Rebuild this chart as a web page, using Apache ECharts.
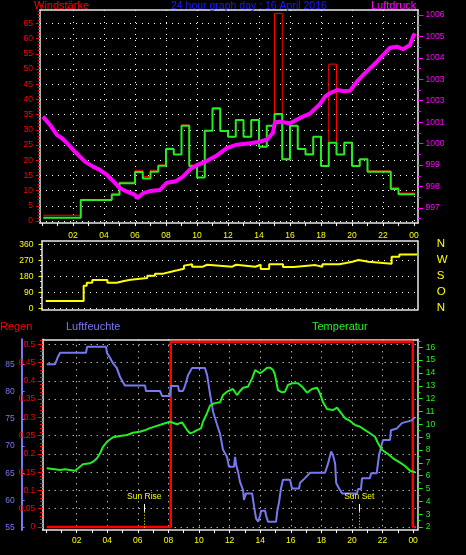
<!DOCTYPE html>
<html><head><meta charset="utf-8">
<script src="https://cdn.jsdelivr.net/npm/echarts@6/dist/echarts.min.js"></script>
<style>html,body{margin:0;padding:0;background:#000;}#c{width:466px;height:555px;}</style>
</head><body><div id="c"></div>
<script>
// ---------- DATA ----------
const hourLabels = ['02','04','06','08','10','12','14','16','18','20','22','00'];
const labelHours = [2,4,6,8,10,12,14,16,18,20,22,24];
const tickHours = [0,1,2,3,4,5,6,7,8,9,10,11,12,13,14,15,16,17,18,19,20,21,22,23,24];

// wind (30-min steps)
const windTimes = [0.08,2.5,4.5,5.0,6.0,6.5,7.0,7.5,8.0,8.5,9.0,9.5,10.0,10.5,11.0,11.5,12.0,12.5,13.0,13.5,14.0,14.5,15.0,15.5,16.0,16.5,17.0,17.5,18.0,18.5,19.0,19.5,20.0,20.5,21.0,22.5,23.0,24.06];
const windMean  = [1.1,6.9,8.6,12.4,16.1,14.0,16.2,18.2,23.7,21.9,31.3,18.1,14.3,29.7,37.0,29.6,27.7,33.2,27.7,33.2,24.4,31.3,35.2,20.3,31.3,23.7,21.9,27.7,18.1,25.7,21.9,25.7,18.1,20.3,16.2,10.5,8.8,8.8];
const windGust  = [1.9,7.1,9.1,12.8,16.7,14.6,16.7,18.4,24.0,21.9,31.6,18.4,16.3,29.7,37.3,29.6,27.7,33.2,27.7,33.2,24.4,31.3,68.3,20.3,31.3,23.7,22.2,27.7,18.1,51.6,21.9,25.9,18.1,20.3,16.5,11.1,9.2,9.2];
const windTicks = [0,5,10,15,20,25,30,35,40,45,50,55,60,65];

// pressure
const pressureTimes  = [0.06,0.52,0.97,1.29,1.61,2.13,2.77,3.29,3.74,4.19,4.58,5.03,5.48,6.0,6.13,6.52,6.97,7.61,8.06,8.58,9.1,9.55,10.0,10.65,11.29,11.94,12.58,13.42,14.06,14.52,14.9,15.03,15.35,16.0,16.65,17.29,17.94,18.26,18.58,19.03,19.42,19.87,20.32,20.71,21.16,21.61,22.0,22.45,22.9,23.29,23.74,23.94,24.06];
const pressureValues = [1001.26,1000.87,1000.40,1000.25,1000.02,999.62,999.16,998.93,998.77,998.54,998.26,997.92,997.76,997.61,997.45,997.69,997.79,997.84,998.18,998.23,998.46,998.8,999.0,999.2,999.45,999.8,999.95,1000.02,1000.09,1000.2,1000.5,1001.0,1001.02,1000.95,1001.2,1001.4,1001.85,1002.19,1002.35,1002.5,1002.45,1002.47,1002.89,1003.2,1003.51,1003.82,1004.13,1004.47,1004.52,1004.4,1004.6,1004.99,1005.14];
const pressureTicks  = [997,998,999,1000,1001,1002,1003,1004,1005,1006];
const pressureLabels = ['997','998','999','1000','1001','1003','1003','1004','1005','1006'];

// wind direction
const dirTimes  = [0.1,2.56,2.76,3.12,4.1,4.7,5.18,5.61,6.69,7.19,7.73,8.23,8.64,9.07,9.18,9.6,10.3,10.57,12.2,12.45,13.7,14.05,14.6,15.5,16.2,17.6,18.05,19.15,19.5,20.0,20.4,21.05,22.55,23.05,24.2];
const dirValues = [41,127,144,159,144,154,161,170,183,195,206,214,223,240,248,234,245,234,245,234,245,221,248,232,243,234,248,253,262,272,262,251,290,302,302];
const dirTicks  = [0,90,180,270,360];
const dirLabels = ['N','O','S','W','N'];

// humidity
const humTimes  = [0.04,0.58,0.78,0.91,2.61,2.68,3.92,3.98,4.18,4.37,4.63,4.83,5.15,6.47,6.53,7.45,7.58,8.1,8.17,8.63,8.69,8.95,9.08,9.28,9.54,10.39,10.53,10.73,10.92,11.18,11.37,11.57,11.83,11.96,12.29,12.36,12.43,12.55,12.68,12.88,12.94,13.07,13.47,13.6,13.73,13.87,14.0,14.06,14.32,14.38,14.51,15.04,15.11,15.24,15.36,15.49,15.95,16.08,16.54,16.6,16.93,17.26,18.24,18.44,18.64,18.76,18.9,18.97,19.16,19.36,20.33,20.4,20.59,20.66,21.18,21.25,21.62,21.77,22.03,22.49,22.55,22.93,23.26,23.91,24.13];
const humValues = [85.0,85.0,86.4,87.1,87.1,88.2,88.2,87.1,86.2,85.2,84.3,82.7,81.1,81.1,80.1,80.1,79.2,79.2,81.0,81.0,80.1,80.1,81.0,83.0,84.3,84.3,83.0,79.4,76.3,73.9,72.3,69.3,68.0,66.2,66.2,68.0,66.5,65.3,63.4,61.9,60.1,61.3,61.3,58.9,56.7,56.1,57.3,58.1,58.1,57.3,56.1,56.1,57.9,59.8,62.2,63.8,63.8,62.2,62.2,63.2,64.1,65.1,65.1,66.8,69.0,68.3,66.8,63.2,62.2,61.3,61.3,62.1,62.1,64.1,64.1,65.0,65.0,68.3,71.1,71.1,72.9,73.2,74.2,74.7,75.3];
const humTicks  = [55,60,65,70,75,80,85];

// temperature
const tempTimes  = [0.04,0.58,0.91,1.24,1.56,1.89,2.09,2.41,2.87,3.07,3.33,3.53,3.72,3.98,4.37,4.83,5.29,5.68,6.12,6.45,6.79,7.78,8.11,8.56,8.89,9.22,9.41,9.61,9.87,10.13,10.26,10.52,10.72,10.98,11.37,11.57,11.83,12.22,12.48,12.68,12.88,13.2,13.47,13.67,13.8,14.0,14.2,14.45,14.64,14.84,14.97,15.16,15.43,15.62,15.82,16.08,16.47,16.74,17.06,17.39,17.72,17.91,18.11,18.37,18.76,19.02,19.22,19.55,19.88,20.2,20.53,20.86,21.18,21.51,21.71,21.97,22.3,22.69,23.15,23.47,23.8,24.13];
const tempValues = [6.57,6.49,6.44,6.49,6.44,6.38,6.57,6.88,6.96,7.09,7.35,7.74,8.25,8.64,8.99,9.09,9.17,9.34,9.42,9.53,9.7,10.08,10.2,10.0,10.15,9.55,9.3,9.37,9.55,9.68,10.2,10.86,11.45,11.63,11.71,12.28,12.54,12.75,12.28,12.59,12.85,12.93,13.58,14.23,14.36,13.97,14.15,14.41,14.41,14.23,13.84,12.67,12.49,12.54,13.06,13.19,13.19,12.93,12.46,12.75,12.85,12.41,11.71,11.19,11.11,11.29,10.98,10.47,10.26,9.94,9.81,9.55,9.3,9.03,8.52,8.0,7.74,7.35,7.01,6.75,6.38,6.26];
const tempTicks  = [2,3,4,5,6,7,8,9,10,11,12,13,14,15,16];

// rain
const rainTimes  = [0.04,8.15,8.15,23.98,23.98,24.17];
const rainValues = [0,0,0.507,0.507,0,0];
const rainTicks  = [0,0.05,0.1,0.15,0.2,0.25,0.3,0.35,0.4,0.45,0.5];
const rainLabels = ['0','0.05','0.1','0.15','0.2','0.25','0.3','0.35','0.4','0.45','0.5'];

// sun events
const sunNames = ['Sun Rise','Sun Set'];
const sunHours = [6.42,20.48];

// ---------- CHART ----------
const zip = (a,b) => a.map((v,i)=>[v,b[i]]);
const range = (a,b,s) => { const r=[]; for(let v=a; v<=b+1e-9; v+=s) r.push(Math.round(v*1000)/1000); return r; };
const FONT = 'Liberation Sans';
const WHITE = '#e8e8e8';
const RED='#ff0000', GREEN='#22ee22', MAG='#ff00ff', YEL='#ffff00', BLUE='#7878f0';
const dotted = {show:true, lineStyle:{color:'#ffffff', width:1, type:[1,5]}};
const lbl = (color, extra) => Object.assign({color, fontSize:8.5, fontFamily:FONT}, extra||{});

const X0 = [-0.129, 24.258], X1 = [-0.143, 24.24], X2 = [-0.222, 24.30];
const hourFmt = v => hourLabels[Math.round(v/2)-1];

function xBottom(g, ext, labels, ticks, margin){
  return {gridIndex:g, type:'value', min:ext[0], max:ext[1], position:'bottom',
    axisLine:{show:true, onZero:false, lineStyle:{color:WHITE, width:1.5}},
    axisTick:{show:!!ticks, customValues:tickHours, length:3, lineStyle:{color:'#fff'}},
    axisLabel:{show:!!labels, customValues:labelHours, formatter:hourFmt, ...lbl(YEL), margin:margin||8},
    splitLine:{show:false}};
}
function xTop(g, ext, split){
  return {gridIndex:g, type:'value', min:ext[0], max:ext[1], position:'top',
    axisLine:{show:true, onZero:false, lineStyle:{color:WHITE, width:1.5}},
    axisTick:{show:false, customValues:labelHours},
    axisLabel:{show:false},
    splitLine: split ? dotted : {show:false}};
}
function minorY(g, ext, pos, vals, color, len, offset){
  return {gridIndex:g, type:'value', min:ext[0], max:ext[1], position:pos, offset:offset||0,
    axisLine:{show:false, onZero:false}, axisLabel:{show:false}, splitLine:{show:false},
    axisTick:{show:true, customValues:vals, length:len, lineStyle:{color}}};
}

const WY=[-0.66,69.4], PY=[996.30,1006.23], DY=[-7.9,378.6], RY=[-0.0082,0.5137], HY=[54.58,89.59], TY=[1.766,16.62];

const option = {
  backgroundColor:'#000',
  animation:false,
  title:[
    {text:'Windstärke', left:34, top:0, padding:0, textStyle:{color:RED, fontSize:11, fontWeight:'normal', fontFamily:FONT, lineHeight:12}},
    {text:'24 hour graph day : 16 April 2016', left:171, top:0, padding:0, textStyle:{color:'#1a1aff', fontSize:10.5, fontWeight:'normal', fontFamily:FONT, lineHeight:12}},
    {text:'Luftdruck', left:371, top:0, padding:0, textStyle:{color:MAG, fontSize:11, fontWeight:'normal', fontFamily:FONT, lineHeight:12}},
    {text:'Regen', left:0, top:321, padding:0, textStyle:{color:RED, fontSize:11, fontWeight:'normal', fontFamily:FONT, lineHeight:12}},
    {text:'Luftfeuchte', left:66, top:321, padding:0, textStyle:{color:BLUE, fontSize:11, fontWeight:'normal', fontFamily:FONT, lineHeight:12}},
    {text:'Temperatur', left:312, top:320.5, padding:0, textStyle:{color:GREEN, fontSize:11, fontWeight:'normal', fontFamily:FONT, lineHeight:12}}
  ],
  grid:[
    {left:40, top:10, width:378, height:213, outerBoundsMode:'none', containLabel:false},
    {left:42, top:241, width:375.7, height:68.7, outerBoundsMode:'none', containLabel:false},
    {left:42.7, top:339.3, width:375, height:190.7, outerBoundsMode:'none', containLabel:false}
  ],
  xAxis:[
    xBottom(0, X0, true, true, 8),
    xTop(0, X0, true),
    xBottom(1, X1, false, false),
    xTop(1, X1, false),
    xBottom(2, X2, true, true, 6),
    xTop(2, X2, true)
  ],
  yAxis:[
    {gridIndex:0, type:'value', min:WY[0], max:WY[1], position:'left',
     axisLine:{show:true, onZero:false, lineStyle:{color:WHITE, width:1.5}},
     axisTick:{show:true, customValues:windTicks, length:4, lineStyle:{color:RED}},
     axisLabel:{customValues:windTicks, ...lbl(RED), margin:7},
     splitLine:dotted},
    minorY(0, WY, 'left', range(0,69,1), RED, 2.3),
    {gridIndex:0, type:'value', min:PY[0], max:PY[1], position:'right',
     axisLine:{show:true, onZero:false, lineStyle:{color:WHITE, width:1.5}},
     axisTick:{show:true, customValues:pressureTicks, length:5, lineStyle:{color:MAG}},
     axisLabel:{customValues:pressureTicks, formatter:v=>pressureLabels[pressureTicks.indexOf(Math.round(v))], ...lbl(MAG), margin:7.5},
     splitLine:{show:false}},
    minorY(0, PY, 'right', range(996.5,1005.5,1), MAG, 2.7),
    {gridIndex:1, type:'value', min:DY[0], max:DY[1], position:'left',
     axisLine:{show:true, onZero:false, lineStyle:{color:WHITE, width:1.5}},
     axisTick:{show:true, customValues:dirTicks, length:3.5, lineStyle:{color:YEL}},
     axisLabel:{customValues:dirTicks, ...lbl(YEL), margin:8.5},
     splitLine:dotted},
    minorY(1, DY, 'left', range(0,360,30), YEL, 2),
    {gridIndex:1, type:'value', min:DY[0], max:DY[1], position:'right',
     axisLine:{show:true, onZero:false, lineStyle:{color:WHITE, width:1.5}},
     axisTick:{show:false, customValues:dirTicks},
     axisLabel:{customValues:dirTicks, formatter:v=>dirLabels[Math.round(v/90)], color:YEL, fontSize:11.5, fontFamily:FONT, margin:19},
     splitLine:{show:false}},
    {gridIndex:2, type:'value', min:RY[0], max:RY[1], position:'left',
     axisLine:{show:true, onZero:false, lineStyle:{color:WHITE, width:1.5}},
     axisTick:{show:true, customValues:rainTicks, length:5, lineStyle:{color:RED}},
     axisLabel:{customValues:rainTicks, formatter:v=>rainLabels[Math.round(v/0.05)], ...lbl(RED), margin:7.5},
     splitLine:dotted},
    minorY(2, RY, 'left', range(0,0.51,0.01), RED, 2.7),
    {gridIndex:2, type:'value', min:HY[0], max:HY[1], position:'left', offset:21,
     axisLine:{show:true, onZero:false, lineStyle:{color:BLUE, width:2}},
     axisTick:{show:true, inside:true, customValues:humTicks, length:3, lineStyle:{color:BLUE}},
     axisLabel:{customValues:humTicks, ...lbl(BLUE), margin:7},
     splitLine:{show:false}},
    {gridIndex:2, type:'value', min:TY[0], max:TY[1], position:'right',
     axisLine:{show:true, onZero:false, lineStyle:{color:WHITE, width:1.5}},
     axisTick:{show:true, customValues:tempTicks, length:5, lineStyle:{color:GREEN}},
     axisLabel:{customValues:tempTicks, ...lbl(GREEN), margin:8},
     splitLine:{show:false}},
    minorY(2, TY, 'right', range(2.5,16.5,1), GREEN, 2.7)
  ],
  series:[
    {name:'Böen', type:'line', xAxisIndex:0, yAxisIndex:0, step:'end', symbol:'none', data:zip(windTimes,windGust), lineStyle:{color:RED, width:1}, z:2},
    {name:'Windstärke', type:'line', xAxisIndex:0, yAxisIndex:0, step:'end', symbol:'none', data:zip(windTimes,windMean), lineStyle:{color:GREEN, width:2}, z:3},
    {name:'Luftdruck', type:'line', xAxisIndex:0, yAxisIndex:2, symbol:'none', data:zip(pressureTimes,pressureValues), lineStyle:{color:MAG, width:4}, z:4},
    {name:'Windrichtung', type:'line', xAxisIndex:2, yAxisIndex:4, step:'end', symbol:'none', data:zip(dirTimes,dirValues), lineStyle:{color:YEL, width:2}},
    {name:'Regen', type:'line', xAxisIndex:4, yAxisIndex:7, symbol:'none', data:zip(rainTimes,rainValues), lineStyle:{color:RED, width:2.5}, z:2,
     markLine:{silent:true, symbol:'none', animation:false,
       data: sunHours.flatMap((h,i)=>[
         [{name:sunNames[i], coord:[h,0.063], lineStyle:{color:'#ffffff', width:1, type:'solid'},
           label:{show:true, position:'start', formatter:'{b}', color:YEL, fontSize:8.5, fontFamily:FONT, distance:3}},
          {coord:[h,0.042]}],
         [{coord:[h,0.042], lineStyle:{color:YEL, width:1, type:[1,2]}, label:{show:false}},
          {coord:[h,RY[0]]}]
       ])}},
    {name:'Luftfeuchte', type:'line', xAxisIndex:4, yAxisIndex:9, symbol:'none', data:zip(humTimes,humValues), lineStyle:{color:BLUE, width:2}, z:3},
    {name:'Temperatur', type:'line', xAxisIndex:4, yAxisIndex:10, symbol:'none', data:zip(tempTimes,tempValues), lineStyle:{color:GREEN, width:2}, z:4}
  ]
};
const chart = echarts.init(document.getElementById('c'), null, {renderer:'canvas'});
chart.setOption(option);
</script></body></html>
